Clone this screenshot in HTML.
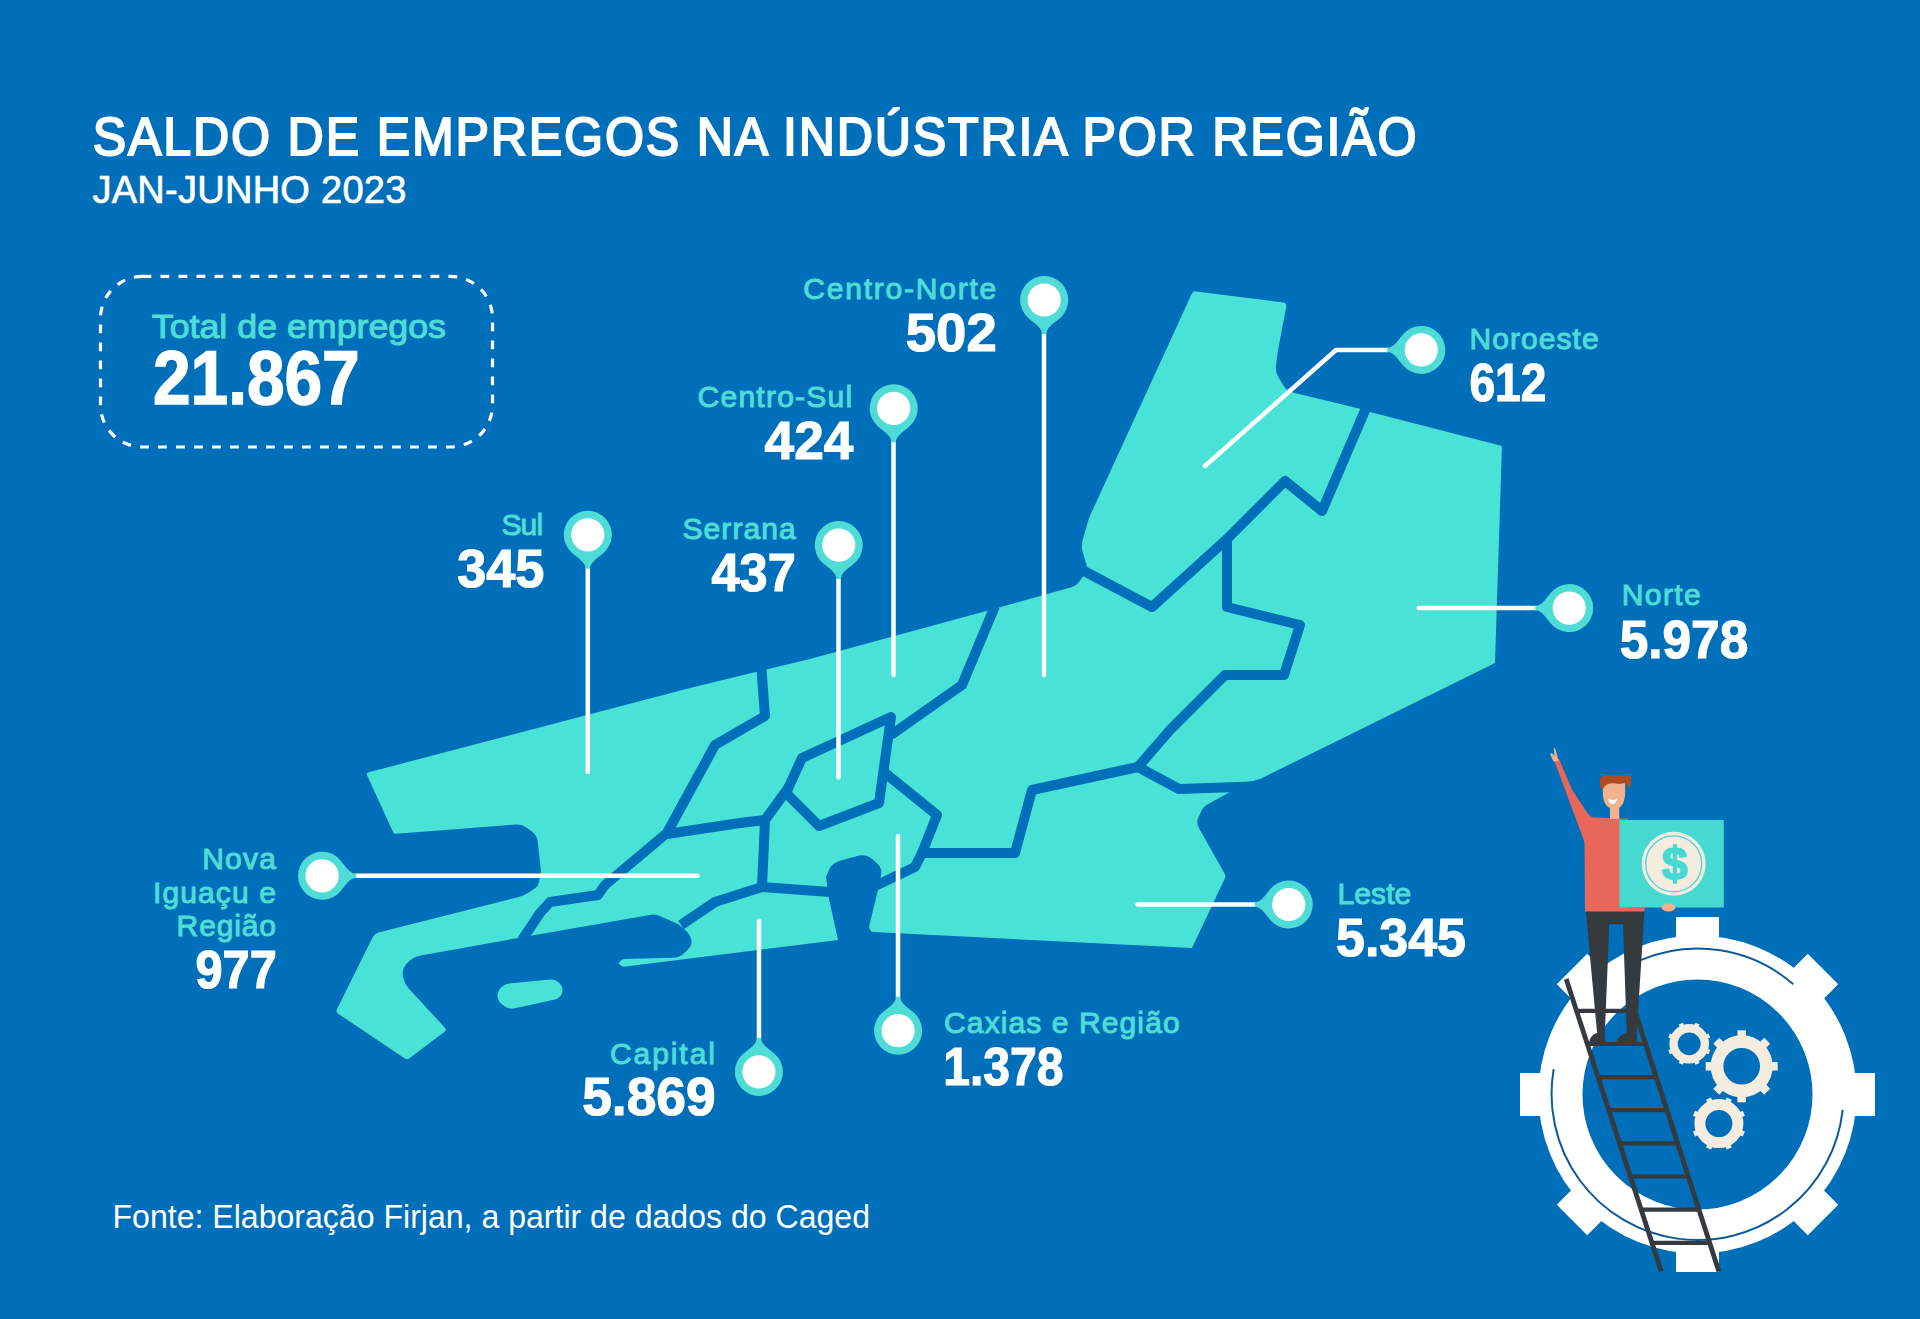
<!DOCTYPE html>
<html><head><meta charset="utf-8">
<style>
html,body{margin:0;padding:0;}
body{width:1920px;height:1319px;overflow:hidden;background:#006fb9;}
svg{position:absolute;left:0;top:0;display:block;}
text{font-family:"Liberation Sans",sans-serif;}
.lb{fill:#4fdcd6;font-size:30px;stroke:#4fdcd6;stroke-width:1px;}
.nb{fill:#ffffff;font-size:54px;font-weight:bold;stroke:#fff;stroke-width:1.2px;}
</style></head>
<body>
<svg width="1920" height="1319" viewBox="0 0 1920 1319">
<rect width="1920" height="1319" fill="#006fb9"/>

<!-- MAP -->
<g id="map">
<path d="M367.3,775.7 Q366.0,773.0 368.9,772.2 L690.0,688.0 L810.0,659.0 L990.0,610.0 L1072.1,587.1 Q1076.0,586.0 1078.4,582.8 L1085.0,574.0 Q1088.0,570.0 1086.6,565.2 L1082.7,551.8 Q1081.0,546.0 1082.6,540.2 L1089.0,518.0 L1191.8,293.7 Q1193.0,291.0 1196.0,291.4 L1283.0,302.5 Q1287.0,303.0 1286.2,306.9 L1278.0,350.0 L1276.1,364.1 Q1275.0,372.0 1279.3,378.8 L1283.8,385.9 Q1287.0,391.0 1292.8,392.4 L1361.0,409.0 L1366.0,414.0 L1370.0,412.0 L1500.1,445.5 Q1502.0,446.0 1501.9,448.0 L1495.0,663.0 L1262.7,777.7 Q1260.0,779.0 1257.1,779.8 L1253.0,781.0 L1230.0,785.0 L1230.0,792.0 L1208.2,804.1 Q1203.0,807.0 1200.6,812.5 L1198.4,817.5 Q1196.0,823.0 1199.0,828.2 L1225.0,874.3 Q1226.0,876.0 1225.1,877.8 L1192.0,948.0 L874.0,932.1 Q871.0,932.0 870.0,929.5 L869.0,927.0 L877.0,894.0 L881.1,874.8 Q882.5,868.0 877.2,863.4 L872.8,859.4 Q866.0,853.5 857.3,855.9 L840.7,860.6 Q832.0,863.0 829.0,870.0 L826.0,877.0 L829.0,899.0 L838.0,940.0 L625.5,966.6 Q622.5,967.0 620.6,965.2 L618.7,963.5 L620.1,961.2 Q621.5,959.0 624.5,958.9 L674.0,957.7 Q680.0,957.5 684.2,953.3 L688.3,949.2 Q692.5,945.0 691.2,939.5 L691.2,939.5 Q690.0,934.0 685.4,930.2 L678.0,924.0 L658.7,915.6 Q655.0,914.0 651.1,914.7 L535.0,935.0 L420.9,955.4 Q412.0,957.0 406.8,963.5 L405.9,964.6 Q401.5,970.0 403.0,976.8 L403.3,978.1 Q404.6,984.0 408.7,988.4 L445.0,1027.8 Q447.0,1030.0 444.6,1031.8 L409.4,1058.2 Q407.0,1060.0 404.5,1058.3 L338.2,1013.7 Q335.7,1012.0 337.0,1009.3 L372.8,937.0 Q374.6,933.4 378.5,932.4 L518.8,897.0 Q524.6,895.5 529.5,892.1 L535.0,888.3 Q538.3,886.0 539.0,882.1 L541.0,871.0 L537.7,841.5 Q537.0,835.5 532.2,831.8 L526.8,827.7 Q522.0,824.0 516.0,824.5 L396.0,833.8 Q394.0,834.0 393.2,832.2 Z" fill="#48e2d6"/>
<polyline points="761,663 765,716 715,745 667,833 605,885 598,895 550,902 540,913 522,940" fill="none" stroke="#006fb9" stroke-width="10" stroke-linejoin="round" stroke-linecap="butt"/>
<polyline points="667,834 740,823 765,820" fill="none" stroke="#006fb9" stroke-width="10" stroke-linejoin="round" stroke-linecap="butt"/>
<polyline points="995,606 962,685 891,735" fill="none" stroke="#006fb9" stroke-width="10" stroke-linejoin="round" stroke-linecap="butt"/>
<polyline points="789,787 765,820 762,887 715,902 681,925" fill="none" stroke="#006fb9" stroke-width="10" stroke-linejoin="round" stroke-linecap="butt"/>
<polyline points="762,887 830,892" fill="none" stroke="#006fb9" stroke-width="10" stroke-linejoin="round" stroke-linecap="butt"/>
<polyline points="885,773 937,815 922,853 1015,853 1032,790 1138,767" fill="none" stroke="#006fb9" stroke-width="10" stroke-linejoin="round" stroke-linecap="butt"/>
<polyline points="922,853 915,867 875,886" fill="none" stroke="#006fb9" stroke-width="10" stroke-linejoin="round" stroke-linecap="butt"/>
<polyline points="1138,767 1170,730 1225,675 1284,675 1300,625 1227,607 1227,539" fill="none" stroke="#006fb9" stroke-width="10" stroke-linejoin="round" stroke-linecap="butt"/>
<polyline points="1138,767 1179,789 1268,786" fill="none" stroke="#006fb9" stroke-width="10" stroke-linejoin="round" stroke-linecap="butt"/>
<polyline points="1366,408 1322,511 1285,481 1227,539 1152,607 1084,571" fill="none" stroke="#006fb9" stroke-width="10" stroke-linejoin="round" stroke-linecap="butt"/>
<polygon points="891,717 802,758 786,793 819,826 879,803" fill="none" stroke="#006fb9" stroke-width="10" stroke-linejoin="round"/>
<path d="M502.1,986.7 Q505.0,984.0 509.0,983.6 L550.0,979.5 Q555.0,979.0 558.7,982.4 L558.8,982.6 Q562.5,986.0 562.5,990.0 L562.5,990.0 Q562.5,994.0 560.0,996.5 L560.0,996.5 Q557.5,999.0 553.6,999.8 L514.9,1008.2 Q509.0,1009.5 504.2,1005.9 L502.3,1004.6 Q497.5,1001.0 497.5,996.0 L497.5,996.0 Q497.5,991.0 501.2,987.5 Z" fill="#48e2d6"/>
</g>
<!-- /map -->

<!-- LABELS -->
<polyline points="1044,334 1044,675" fill="none" stroke="#fff" stroke-width="4.5" stroke-linecap="round" stroke-linejoin="round"/>
<polyline points="893.5,442 893.5,675" fill="none" stroke="#fff" stroke-width="4.5" stroke-linecap="round" stroke-linejoin="round"/>
<polyline points="587.8,568 587.8,772" fill="none" stroke="#fff" stroke-width="4.5" stroke-linecap="round" stroke-linejoin="round"/>
<polyline points="838.5,579 838.5,777.5" fill="none" stroke="#fff" stroke-width="4.5" stroke-linecap="round" stroke-linejoin="round"/>
<polyline points="1205,466 1336,350 1388,350" fill="none" stroke="#fff" stroke-width="4.5" stroke-linecap="round" stroke-linejoin="round"/>
<polyline points="1418.8,608 1536,608" fill="none" stroke="#fff" stroke-width="4.5" stroke-linecap="round" stroke-linejoin="round"/>
<polyline points="1137.5,904.5 1255,904.5" fill="none" stroke="#fff" stroke-width="4.5" stroke-linecap="round" stroke-linejoin="round"/>
<polyline points="356,875.8 697.5,875.8" fill="none" stroke="#fff" stroke-width="4.5" stroke-linecap="round" stroke-linejoin="round"/>
<polyline points="759,921 759,1038" fill="none" stroke="#fff" stroke-width="4.5" stroke-linecap="round" stroke-linejoin="round"/>
<polyline points="898,836 898,997" fill="none" stroke="#fff" stroke-width="4.5" stroke-linecap="round" stroke-linejoin="round"/>
<g transform="translate(1044.2 300) rotate(0)"><path d="M2.2,34 C2.2,27.5 9,23.8 15.4,18.4 A24,24 0 1 0 -15.4,18.4 C-9,23.8 -2.2,27.5 -2.2,34 Z" fill="#4fdcd6"/><circle cx="0" cy="0" r="16.6" fill="#ffffff"/></g>
<g transform="translate(893.7 408.3) rotate(0)"><path d="M2.2,34 C2.2,27.5 9,23.8 15.4,18.4 A24,24 0 1 0 -15.4,18.4 C-9,23.8 -2.2,27.5 -2.2,34 Z" fill="#4fdcd6"/><circle cx="0" cy="0" r="16.6" fill="#ffffff"/></g>
<g transform="translate(587.8 534.8) rotate(0)"><path d="M2.2,34 C2.2,27.5 9,23.8 15.4,18.4 A24,24 0 1 0 -15.4,18.4 C-9,23.8 -2.2,27.5 -2.2,34 Z" fill="#4fdcd6"/><circle cx="0" cy="0" r="16.6" fill="#ffffff"/></g>
<g transform="translate(838.75 545.1) rotate(0)"><path d="M2.2,34 C2.2,27.5 9,23.8 15.4,18.4 A24,24 0 1 0 -15.4,18.4 C-9,23.8 -2.2,27.5 -2.2,34 Z" fill="#4fdcd6"/><circle cx="0" cy="0" r="16.6" fill="#ffffff"/></g>
<g transform="translate(1421.3 349.9) rotate(90)"><path d="M2.2,34 C2.2,27.5 9,23.8 15.4,18.4 A24,24 0 1 0 -15.4,18.4 C-9,23.8 -2.2,27.5 -2.2,34 Z" fill="#4fdcd6"/><circle cx="0" cy="0" r="16.6" fill="#ffffff"/></g>
<g transform="translate(1569.2 608.1) rotate(90)"><path d="M2.2,34 C2.2,27.5 9,23.8 15.4,18.4 A24,24 0 1 0 -15.4,18.4 C-9,23.8 -2.2,27.5 -2.2,34 Z" fill="#4fdcd6"/><circle cx="0" cy="0" r="16.6" fill="#ffffff"/></g>
<g transform="translate(1288.75 904.5) rotate(90)"><path d="M2.2,34 C2.2,27.5 9,23.8 15.4,18.4 A24,24 0 1 0 -15.4,18.4 C-9,23.8 -2.2,27.5 -2.2,34 Z" fill="#4fdcd6"/><circle cx="0" cy="0" r="16.6" fill="#ffffff"/></g>
<g transform="translate(322.1 875.8) rotate(-90)"><path d="M2.2,34 C2.2,27.5 9,23.8 15.4,18.4 A24,24 0 1 0 -15.4,18.4 C-9,23.8 -2.2,27.5 -2.2,34 Z" fill="#4fdcd6"/><circle cx="0" cy="0" r="16.6" fill="#ffffff"/></g>
<g transform="translate(758.9 1071.9) rotate(180)"><path d="M2.2,34 C2.2,27.5 9,23.8 15.4,18.4 A24,24 0 1 0 -15.4,18.4 C-9,23.8 -2.2,27.5 -2.2,34 Z" fill="#4fdcd6"/><circle cx="0" cy="0" r="16.6" fill="#ffffff"/></g>
<g transform="translate(898.1 1030.7) rotate(180)"><path d="M2.2,34 C2.2,27.5 9,23.8 15.4,18.4 A24,24 0 1 0 -15.4,18.4 C-9,23.8 -2.2,27.5 -2.2,34 Z" fill="#4fdcd6"/><circle cx="0" cy="0" r="16.6" fill="#ffffff"/></g>
<text class="lb" x="996.3" y="298.7" text-anchor="end" textLength="193" lengthAdjust="spacing">Centro-Norte</text>
<text class="nb" x="996.7" y="350.8" text-anchor="end" textLength="90.9" lengthAdjust="spacingAndGlyphs">502</text>
<text class="lb" x="852.2" y="406.6" text-anchor="end" textLength="154.6" lengthAdjust="spacing">Centro-Sul</text>
<text class="nb" x="853.3" y="459.4" text-anchor="end" textLength="88.7" lengthAdjust="spacingAndGlyphs">424</text>
<text class="lb" x="543.1" y="534.8" text-anchor="end" textLength="41.7" lengthAdjust="spacing">Sul</text>
<text class="nb" x="544.3" y="587.1" text-anchor="end" textLength="87.1" lengthAdjust="spacingAndGlyphs">345</text>
<text class="lb" x="795.7" y="538.5" text-anchor="end" textLength="113.2" lengthAdjust="spacing">Serrana</text>
<text class="nb" x="795.7" y="590.5" text-anchor="end" textLength="84.1" lengthAdjust="spacingAndGlyphs">437</text>
<text class="lb" x="1469.4" y="348.6" text-anchor="start" textLength="129.3" lengthAdjust="spacing">Noroeste</text>
<text class="nb" x="1469.4" y="401.4" text-anchor="start" textLength="76.9" lengthAdjust="spacingAndGlyphs">612</text>
<text class="lb" x="1621.7" y="604.5" text-anchor="start" textLength="79.1" lengthAdjust="spacing">Norte</text>
<text class="nb" x="1619.7" y="658" text-anchor="start" textLength="128.6" lengthAdjust="spacingAndGlyphs">5.978</text>
<text class="lb" x="276" y="869.3" text-anchor="end" textLength="73.8" lengthAdjust="spacing">Nova</text>
<text class="lb" x="276" y="903.1" text-anchor="end" textLength="123.1" lengthAdjust="spacing">Iguaçu e</text>
<text class="lb" x="276" y="935.6" text-anchor="end" textLength="99.4" lengthAdjust="spacing">Região</text>
<text class="nb" x="276.8" y="988.4" text-anchor="end" textLength="81.3" lengthAdjust="spacingAndGlyphs">977</text>
<text class="lb" x="714.9" y="1063.8" text-anchor="end" textLength="104.9" lengthAdjust="spacing">Capital</text>
<text class="nb" x="715.6" y="1115.3" text-anchor="end" textLength="133.4" lengthAdjust="spacingAndGlyphs">5.869</text>
<text class="lb" x="944.1" y="1032.5" text-anchor="start" textLength="235.5" lengthAdjust="spacing">Caxias e Região</text>
<text class="nb" x="943.2" y="1084.7" text-anchor="start" textLength="120.4" lengthAdjust="spacingAndGlyphs">1.378</text>
<text class="lb" x="1337.5" y="903.75" text-anchor="start" textLength="73.75" lengthAdjust="spacing">Leste</text>
<text class="nb" x="1336" y="956" text-anchor="start" textLength="130" lengthAdjust="spacingAndGlyphs">5.345</text>
<!-- /LABELS -->
<!-- ILLUS -->
<g id="illus">
<rect x="1676" y="917" width="43" height="30" fill="#fff" transform="rotate(0 1697.5 1094.5)"/>
<rect x="1676" y="917" width="43" height="30" fill="#fff" transform="rotate(45 1697.5 1094.5)"/>
<rect x="1676" y="917" width="43" height="30" fill="#fff" transform="rotate(90 1697.5 1094.5)"/>
<rect x="1676" y="917" width="43" height="30" fill="#fff" transform="rotate(135 1697.5 1094.5)"/>
<rect x="1676" y="917" width="43" height="30" fill="#fff" transform="rotate(180 1697.5 1094.5)"/>
<rect x="1676" y="917" width="43" height="30" fill="#fff" transform="rotate(225 1697.5 1094.5)"/>
<rect x="1676" y="917" width="43" height="30" fill="#fff" transform="rotate(270 1697.5 1094.5)"/>
<rect x="1676" y="917" width="43" height="30" fill="#fff" transform="rotate(315 1697.5 1094.5)"/>
<circle cx="1697.5" cy="1094.5" r="137" fill="none" stroke="#fff" stroke-width="44"/>
<path d="M1640.5,960.1 A146,146 0 0 1 1793.3,984.3" fill="none" stroke="#0b5a9c" stroke-width="2"/>
<path d="M1842.7,1109.8 A146,146 0 1 1 1553.7,1069.1" fill="none" stroke="#0b5a9c" stroke-width="2"/>
<g fill="#f5ece0"><rect x="1686.95" y="1022" width="4.5" height="4" transform="rotate(22.5 1689.2 1043.8)"/><rect x="1686.95" y="1022" width="4.5" height="4" transform="rotate(67.5 1689.2 1043.8)"/><rect x="1686.95" y="1022" width="4.5" height="4" transform="rotate(112.5 1689.2 1043.8)"/><rect x="1686.95" y="1022" width="4.5" height="4" transform="rotate(157.5 1689.2 1043.8)"/><rect x="1686.95" y="1022" width="4.5" height="4" transform="rotate(202.5 1689.2 1043.8)"/><rect x="1686.95" y="1022" width="4.5" height="4" transform="rotate(247.5 1689.2 1043.8)"/><rect x="1686.95" y="1022" width="4.5" height="4" transform="rotate(292.5 1689.2 1043.8)"/><rect x="1686.95" y="1022" width="4.5" height="4" transform="rotate(337.5 1689.2 1043.8)"/></g><circle cx="1689.2" cy="1043.8" r="15.6" fill="none" stroke="#f5ece0" stroke-width="8.4"/>
<g fill="#f5ece0"><rect x="1737.45" y="1030.3" width="8.5" height="7" transform="rotate(0 1741.7 1066.3)"/><rect x="1737.45" y="1030.3" width="8.5" height="7" transform="rotate(45 1741.7 1066.3)"/><rect x="1737.45" y="1030.3" width="8.5" height="7" transform="rotate(90 1741.7 1066.3)"/><rect x="1737.45" y="1030.3" width="8.5" height="7" transform="rotate(135 1741.7 1066.3)"/><rect x="1737.45" y="1030.3" width="8.5" height="7" transform="rotate(180 1741.7 1066.3)"/><rect x="1737.45" y="1030.3" width="8.5" height="7" transform="rotate(225 1741.7 1066.3)"/><rect x="1737.45" y="1030.3" width="8.5" height="7" transform="rotate(270 1741.7 1066.3)"/><rect x="1737.45" y="1030.3" width="8.5" height="7" transform="rotate(315 1741.7 1066.3)"/></g><circle cx="1741.7" cy="1066.3" r="24.65" fill="none" stroke="#f5ece0" stroke-width="12.7"/>
<g fill="#f5ece0"><rect x="1716.15" y="1096.6" width="5.5" height="4.5" transform="rotate(22.5 1718.9 1123.6)"/><rect x="1716.15" y="1096.6" width="5.5" height="4.5" transform="rotate(67.5 1718.9 1123.6)"/><rect x="1716.15" y="1096.6" width="5.5" height="4.5" transform="rotate(112.5 1718.9 1123.6)"/><rect x="1716.15" y="1096.6" width="5.5" height="4.5" transform="rotate(157.5 1718.9 1123.6)"/><rect x="1716.15" y="1096.6" width="5.5" height="4.5" transform="rotate(202.5 1718.9 1123.6)"/><rect x="1716.15" y="1096.6" width="5.5" height="4.5" transform="rotate(247.5 1718.9 1123.6)"/><rect x="1716.15" y="1096.6" width="5.5" height="4.5" transform="rotate(292.5 1718.9 1123.6)"/><rect x="1716.15" y="1096.6" width="5.5" height="4.5" transform="rotate(337.5 1718.9 1123.6)"/></g><circle cx="1718.9" cy="1123.6" r="19" fill="none" stroke="#f5ece0" stroke-width="11"/>
<path d="M1585.8,911 L1644.5,911 L1636.6,1034 L1626.8,1034 L1623,924.3 L1609.3,924.3 L1604.8,1034 L1597.2,1034 Z" fill="#343a3e"/>
<path d="M1589,1042.5 Q1590,1035 1597,1033 L1605,1033 L1605,1042.5 Z" fill="#343a3e"/>
<path d="M1616,1042.5 Q1618,1035 1627,1033 L1637,1033 L1637,1042.5 Z" fill="#343a3e"/>
<line x1="1566.2" y1="979.1" x2="1661.3" y2="1271.6" stroke="#343a3e" stroke-width="4.8"/>
<line x1="1634" y1="1008" x2="1718.9" y2="1271.6" stroke="#343a3e" stroke-width="4.8"/>
<line x1="1576.5" y1="1010.8" x2="1634.9" y2="1010.8" stroke="#343a3e" stroke-width="4.2"/>
<line x1="1587.3" y1="1044" x2="1645.6" y2="1044" stroke="#343a3e" stroke-width="4.2"/>
<line x1="1598.1" y1="1077.1" x2="1656.3" y2="1077.1" stroke="#343a3e" stroke-width="4.2"/>
<line x1="1608.8" y1="1110.2" x2="1666.9" y2="1110.2" stroke="#343a3e" stroke-width="4.2"/>
<line x1="1619.6" y1="1143.4" x2="1677.6" y2="1143.4" stroke="#343a3e" stroke-width="4.2"/>
<line x1="1630.4" y1="1176.5" x2="1688.3" y2="1176.5" stroke="#343a3e" stroke-width="4.2"/>
<line x1="1641.1" y1="1209.6" x2="1698.9" y2="1209.6" stroke="#343a3e" stroke-width="4.2"/>
<line x1="1651.9" y1="1242.8" x2="1709.6" y2="1242.8" stroke="#343a3e" stroke-width="4.2"/>
<path d="M1553.6,759 L1559,759 L1572.5,790.5 L1588.5,814.4 Q1591,817.3 1596,817.6 L1628,818.7 L1628,907.5 L1644.5,907.5 L1644.5,911.5 L1585,911.5 L1584.5,842 L1567.8,797 Z" fill="#e9665a"/>
<path d="M1553.6,761.5 L1550,754 L1552,753 L1554.5,756 L1553.8,747.5 L1555.5,749 L1558.5,761 Z" fill="#f3b18e"/>
<rect x="1610" y="805" width="9.2" height="14" fill="#f3b18e"/>
<path d="M1602.8,790 Q1602.5,807 1612,808.5 L1617,808.5 Q1625.5,806 1625.2,790 L1625,782 L1603,782 Z" fill="#f3b18e"/>
<path d="M1600,788 L1600,778 Q1603,774 1612,775 L1631,775.5 Q1632,783 1629,789 Q1627,781 1620,784 Q1606,781 1603,789 Z" fill="#b04a23"/>
<path d="M1608.2,798.8 Q1612.5,801 1617,798.8 Q1616,804 1612.5,804 Q1609,804 1608.2,798.8 Z" fill="#fff"/>
<rect x="1619.5" y="820" width="104.3" height="87.5" fill="#45d9d2"/>
<circle cx="1673.7" cy="863.8" r="32" fill="#f5ece0"/>
<circle cx="1673.7" cy="863.8" r="28" fill="none" stroke="#45d9d2" stroke-width="1.3"/>
<text x="1674.5" y="879.5" text-anchor="middle" font-size="46" font-weight="bold" fill="#45d9d2" stroke="#45d9d2" stroke-width="1.6">$</text>
<ellipse cx="1668.5" cy="907.5" rx="7" ry="4" fill="#f3b18e"/>
</g>
<!-- /ILLUS -->
<!-- TEXT -->
<text transform="scale(0.94 1)" x="98.72" y="154.8" fill="#fff" stroke="#fff" stroke-width="2" font-size="53.4" textLength="1408.2" lengthAdjust="spacing">SALDO DE EMPREGOS NA INDÚSTRIA POR REGIÃO</text>
<text x="92.4" y="203.4" fill="#fff" stroke="#fff" stroke-width="0.7" font-size="38" textLength="314" lengthAdjust="spacing">JAN-JUNHO 2023</text>

<rect x="100.5" y="276.4" width="392" height="170.6" rx="42" ry="42" fill="none" stroke="#fff" stroke-width="3.2" stroke-dasharray="8.8 9.2"/>
<text x="151.75" y="338.25" fill="#4fdcd6" stroke="#4fdcd6" stroke-width="1" font-size="33.5" textLength="294.25" lengthAdjust="spacingAndGlyphs">Total de empregos</text>
<text x="153" y="403.7" fill="#fff" stroke="#fff" stroke-width="1.5" font-size="75.5" font-weight="bold" textLength="206.7" lengthAdjust="spacingAndGlyphs">21.867</text>

<text x="112.5" y="1228.1" fill="#fff" font-size="32.7" textLength="757.5" lengthAdjust="spacingAndGlyphs">Fonte: Elaboração Firjan, a partir de dados do Caged</text>
</svg>
</body></html>
